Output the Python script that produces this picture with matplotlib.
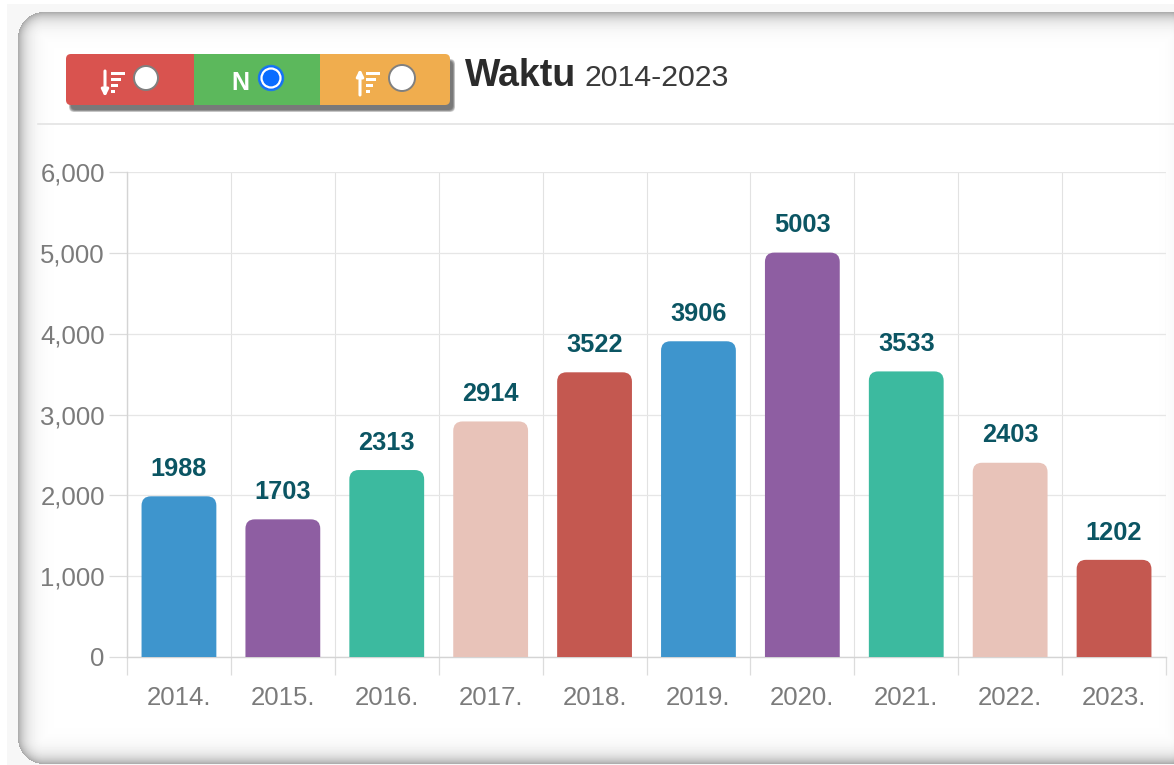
import numpy as np
import matplotlib
matplotlib.use("Agg")
import matplotlib.pyplot as plt
from matplotlib.patches import FancyBboxPatch, Rectangle, Circle
from matplotlib.ticker import FuncFormatter

plt.rcParams['font.family'] = ['Liberation Sans', 'DejaVu Sans']

# data
years = ['2014.', '2015.', '2016.', '2017.', '2018.', '2019.', '2020.', '2021.', '2022.', '2023.']
values = [1988, 1703, 2313, 2914, 3522, 3906, 5003, 3533, 2403, 1202]
bar_colors = ['#3e95cd', '#8e5ea2', '#3cba9f', '#e8c3b9', '#c45850',
              '#3e95cd', '#8e5ea2', '#3cba9f', '#e8c3b9', '#c45850']
y_ticks = [0, 1000, 2000, 3000, 4000, 5000, 6000]

W, H = 1174, 765
fig = plt.figure(figsize=(W / 100, H / 100), dpi=100, facecolor='white')

# background axes in pixel coordinates, for the card and the buttons
bg = fig.add_axes([0, 0, 1, 1])
bg.set_xlim(0, W)
bg.set_ylim(H, 0)
bg.axis('off')


# inset shadow of the card, from the distance to a rounded rectangle
def cardImage():
    xx, yy = np.meshgrid(np.arange(W) + 0.5, np.arange(H) + 0.5)
    left, top, right, bottom, rad = 18, 12, 1195, 764, 26
    cx = (left + right) / 2
    cy = (top + bottom) / 2
    qx = np.abs(xx - cx) - ((right - left) / 2 - rad)
    qy = np.abs(yy - cy) - ((bottom - top) / 2 - rad)
    outside = np.hypot(np.maximum(qx, 0), np.maximum(qy, 0))
    dist = outside + np.minimum(np.maximum(qx, qy), 0) - rad
    img = 1 - 0.34 * np.exp(np.minimum(dist, 0) / 8.0)
    img[dist > 0] = 0.965
    img[(xx < 7) | (yy < 4)] = 1.0
    return img


bg.imshow(cardImage(), cmap='gray', vmin=0, vmax=1, extent=(0, W, H, 0), aspect='auto', zorder=0)
bg.set_xlim(0, W)
bg.set_ylim(H, 0)

# line under the header
bg.plot([38, W], [123.5, 123.5], color='#e3e3e3', lw=1.2, zorder=1)

# button group shadow
for i in range(5):
    bg.add_patch(FancyBboxPatch((71 - i * 0.5, 61 - i * 0.5), 382 + i, 49 + i,
                                boxstyle='round,pad=0,rounding_size=5',
                                fc='#444444', ec='none', alpha=0.22, zorder=2))

# buttons, left and right ends rounded
bg.add_patch(FancyBboxPatch((66, 54), 60, 51, boxstyle='round,pad=0,rounding_size=5',
                            fc='#d9534f', ec='none', zorder=3))
bg.add_patch(Rectangle((100, 54), 94, 51, fc='#d9534f', ec='none', zorder=3))
bg.add_patch(FancyBboxPatch((380, 54), 70, 51, boxstyle='round,pad=0,rounding_size=5',
                            fc='#f0ad4e', ec='none', zorder=3))
bg.add_patch(Rectangle((320, 54), 90, 51, fc='#f0ad4e', ec='none', zorder=3))
bg.add_patch(Rectangle((194, 54), 126, 51, fc='#5cb85c', ec='none', zorder=3))


# sort icon made of an arrow and shrinking bars
def sortIcon(x, y, down):
    if down:
        bg.annotate('', xy=(x, y + 14), xytext=(x, y - 12), zorder=4,
                    arrowprops=dict(arrowstyle='-|>', color='white', lw=2.2, mutation_scale=10, shrinkA=0, shrinkB=0))
    else:
        bg.annotate('', xy=(x, y - 14), xytext=(x, y + 12), zorder=4,
                    arrowprops=dict(arrowstyle='-|>', color='white', lw=2.2, mutation_scale=10, shrinkA=0, shrinkB=0))
    for k, bar_len in enumerate([14, 10, 7, 4]):
        bg.add_patch(Rectangle((x + 6, y - 11 + k * 6), bar_len, 3, fc='white', ec='none', zorder=4))


sortIcon(105, 83, True)
sortIcon(360, 83, False)
bg.text(240, 83, 'N', color='white', fontsize=18, fontweight='bold', ha='center', va='center', zorder=4)

# radio buttons
bg.add_patch(Circle((146, 78), 12, fc='white', ec='#808080', lw=1.4, zorder=4))
bg.add_patch(Circle((271, 78), 12.5, fc='#0a6cff', ec='#1f78e8', lw=1, zorder=4))
bg.add_patch(Circle((271, 78), 9.5, fc='#0a6cff', ec='white', lw=1.6, zorder=5))
bg.add_patch(Circle((402, 78), 13, fc='white', ec='#808080', lw=1.4, zorder=4))

# title
bg.text(465, 76, 'Waktu', color='#2b2b2b', fontsize=27, fontweight='bold', ha='left', va='center', zorder=4)
bg.text(584, 78, '2014-2023', color='#3a3a3a', fontsize=21.8, ha='left', va='center', zorder=4)

# chart axes
x0, x1, ytop, ybot = 127, 1166, 172, 657
ax = fig.add_axes([x0 / W, 1 - ybot / H, (x1 - x0) / W, (ybot - ytop) / H])
ax.patch.set_alpha(0)
ax.set_xlim(-0.5, 9.5)
ax.set_ylim(0, 6000)
for s in ['top', 'right']:
    ax.spines[s].set_visible(False)
ax.spines['left'].set_color('#d4d4d4')
ax.spines['bottom'].set_color('#d4d4d4')
ax.spines['left'].set_linewidth(1)
ax.spines['bottom'].set_linewidth(1)

ax.set_axisbelow(True)
ax.set_yticks(y_ticks)
ax.yaxis.set_major_formatter(FuncFormatter(lambda v, p: f'{int(v):,}'))
ax.tick_params(axis='y', length=13, width=0.9, color='#dcdcdc', labelcolor='#7b7b7b', labelsize=18.5, pad=3)
ax.grid(axis='y', color='#e6e6e6', lw=0.9)

pos = np.arange(len(years))
ax.set_xticks(pos)
ax.set_xticklabels(years)
ax.tick_params(axis='x', which='major', length=0, labelcolor='#7b7b7b', labelsize=18.5, pad=21)
ax.set_xticks(np.arange(-0.5, 10, 1), minor=True)
ax.tick_params(axis='x', which='minor', length=13, width=0.9, color='#dcdcdc')
ax.grid(axis='x', which='minor', color='#e2e2e2', lw=0.8)

# rounded bars, the lower corners start below zero and get clipped by the axes
bar_w = 0.72
below = 300
aspect = (6000 / (ybot - ytop)) / (1 / ((x1 - x0) / 10))
for p, v, c in zip(pos, values, bar_colors):
    ax.add_patch(FancyBboxPatch((p - bar_w / 2, -below), bar_w, v + below,
                                boxstyle='round,pad=0,rounding_size=0.09',
                                mutation_aspect=aspect, fc=c, ec='none', zorder=3))
    ax.annotate(str(v), (p, v), xytext=(0, 11), textcoords='offset points', ha='center', va='bottom',
                color='#0b5563', fontsize=18.3, fontweight='bold', zorder=5)

fig.savefig('out.png', dpi=100)
plt.close()
